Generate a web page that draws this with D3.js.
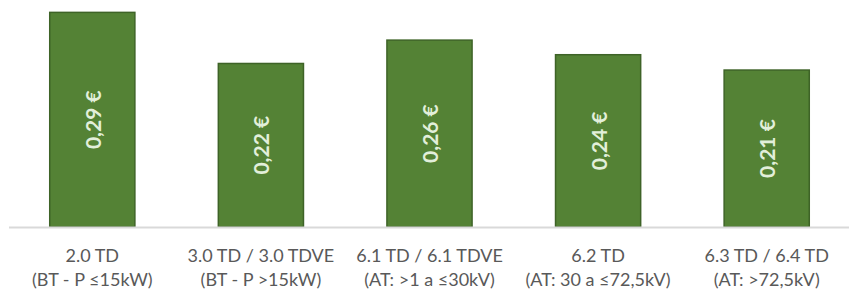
<!DOCTYPE html>
<html>
<head>
<meta charset="utf-8">
<script src="https://cdn.jsdelivr.net/npm/d3@7"></script>
<style>
    body { margin: 0; background: #fff; }
    .axisLabel { font-family: Lato, "Open Sans", sans-serif; fill: #595959; }
    .barValue { font-family: Lato, "Open Sans", sans-serif; font-weight: bold; fill: #e2efda; }
</style>
</head>
<body>
<div class="tariffChart"></div>
<script>
// tariff categories (two text lines each) and values in € / kWh
const categories = ["2.0 TD", "3.0 TD / 3.0 TDVE", "6.1 TD / 6.1 TDVE", "6.2 TD", "6.3 TD / 6.4 TD"];
const subLabels = ["(BT - P \u226415kW)", "(BT - P >15kW)", "(AT: >1 a \u226430kV)", "(AT: 30 a \u226472,5kV)", "(AT: >72,5kV)"];
const values = [0.294, 0.224, 0.256, 0.236, 0.215];
const valueLabels = ["0,29 \u20ac", "0,22 \u20ac", "0,26 \u20ac", "0,24 \u20ac", "0,21 \u20ac"];

const width = 849, height = 291;
const baseline = 227;

let svg = d3.select(".tariffChart").append("svg")
    .attr("width", width)
    .attr("height", height);

let x = d3.scaleBand()
    .domain(categories)
    .range([8, 851])
    .paddingInner(0.495)
    .paddingOuter(0.2475);

let y = d3.scaleLinear()
    .domain([0, 0.3])
    .range([baseline, 8]);

let data = categories.map((c, i) => ({ cat: c, sub: subLabels[i], value: values[i], label: valueLabels[i] }));

// bars
svg.selectAll(".bar")
    .data(data)
    .enter()
        .append("rect")
        .attr("class", "bar")
        .attr("x", d => x(d.cat))
        .attr("y", d => y(d.value))
        .attr("width", x.bandwidth())
        .attr("height", d => baseline - y(d.value))
        .attr("fill", "#548235")
        .attr("stroke", "#3e6327")
        .attr("stroke-width", 1.5);

// baseline
svg.append("line")
    .attr("x1", 9)
    .attr("x2", width)
    .attr("y1", baseline + 0.5)
    .attr("y2", baseline + 0.5)
    .attr("stroke", "#d9d9d9")
    .attr("stroke-width", 2);

// value labels, rotated inside the bars
svg.selectAll(".barValue")
    .data(data)
    .enter()
        .append("text")
        .attr("class", "barValue")
        .attr("font-size", 21)
        .attr("text-anchor", "middle")
        .attr("dominant-baseline", "central")
        .attr("transform", d => {
            const cx = x(d.cat) + x.bandwidth() / 2;
            const cy = (y(d.value) + baseline) / 2;
            return "translate(" + cx + "," + cy + ") rotate(-90)";
        })
        .text(d => d.label);

// category labels
let catLabel = svg.selectAll(".axisLabel")
    .data(data)
    .enter()
        .append("text")
        .attr("class", "axisLabel")
        .attr("font-size", 18)
        .attr("text-anchor", "middle");

catLabel.append("tspan")
    .attr("x", d => x(d.cat) + x.bandwidth() / 2)
    .attr("y", 262)
    .text(d => d.cat);

catLabel.append("tspan")
    .attr("x", d => x(d.cat) + x.bandwidth() / 2)
    .attr("y", 286)
    .text(d => d.sub);
</script>
</body>
</html>
